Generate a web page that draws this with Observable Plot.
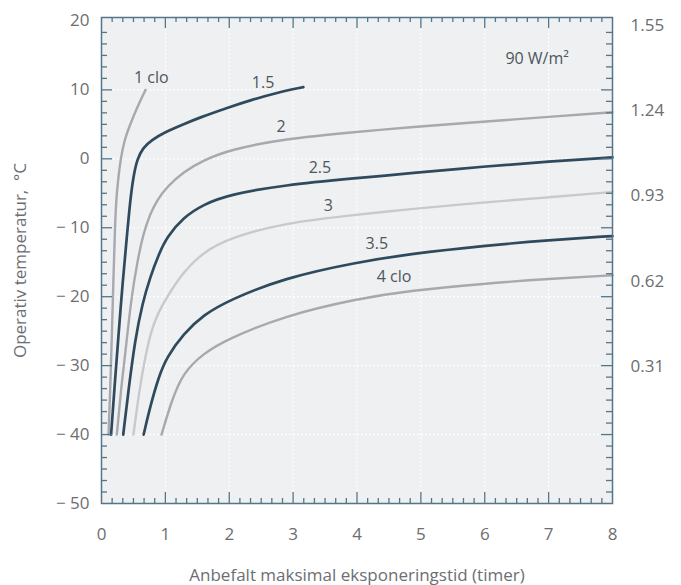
<!DOCTYPE html>
<html><head><meta charset="utf-8">
<script src="https://cdn.jsdelivr.net/npm/d3@7"></script>
<script src="https://cdn.jsdelivr.net/npm/@observablehq/plot@0.6"></script>
<style>body{margin:0;background:#fff;}</style>
</head><body><div id="chart"></div>
<script>
// Curves: [hours, °C]
const clo1   = [[0.11,-40],[0.135,-34],[0.16,-26.3],[0.185,-18],[0.21,-10],[0.23,-6],[0.26,-3],[0.30,0],[0.36,2.8],[0.45,5],[0.55,7.3],[0.69,10]];
const clo15  = [[0.15,-40],[0.205,-33],[0.26,-26.3],[0.33,-18],[0.40,-11],[0.45,-6],[0.50,-2.5],[0.56,0],[0.65,1.6],[0.78,2.7],[1.0,3.9],[1.28,5],[1.54,6],[2.0,7.5],[2.33,8.5],[2.75,9.6],[3.16,10.4]];
const clo2   = [[0.24,-40],[0.31,-33],[0.395,-26.3],[0.47,-20],[0.56,-15],[0.65,-11],[0.76,-8],[0.87,-6],[1.02,-4.1],[1.28,-1.9],[1.6,-0.2],[2.0,1.3],[2.85,2.9],[4,3.9],[4.83,4.6],[6,5.4],[7,6.1],[8,6.75]];
const clo25  = [[0.34,-40],[0.43,-33],[0.525,-26.3],[0.64,-21],[0.76,-17.2],[0.9,-13.8],[1.02,-11.4],[1.28,-8.5],[1.6,-6.6],[2.0,-5.2],[2.85,-3.8],[4,-2.8],[4.83,-2.1],[6,-1.1],[7,-0.4],[8,0.2]];
const clo3   = [[0.50,-40],[0.6,-33],[0.73,-26.5],[0.85,-23],[1.02,-20.1],[1.28,-16.4],[1.6,-13.5],[2.0,-11.5],[2.85,-9.3],[4,-8.1],[4.83,-7.3],[6,-6.3],[7,-5.6],[8,-4.8]];
const clo35  = [[0.66,-40],[0.76,-36],[0.9,-31.5],[1.02,-28.8],[1.28,-25.4],[1.6,-22.6],[2.0,-20.5],[2.85,-17.3],[4,-15.0],[4.83,-13.8],[6,-12.6],[7,-11.8],[8,-11.2]];
const clo4   = [[0.94,-40],[1.1,-35],[1.28,-31],[1.6,-28.2],[1.96,-26.2],[2.85,-22.8],[4,-20.3],[4.83,-19.1],[6,-18.1],[7,-17.4],[8,-16.9]];

const curveLabels = ["1 clo","1.5","2","2.5","3","3.5","4 clo"];
const curveLabelX = [0.78, 2.53, 2.81, 3.42, 3.55, 4.31, 4.58];
const curveLabelY = [11.8, 11.0, 4.6, -1.3, -6.8, -12.3, -17.1];

const xTicks = [0,1,2,3,4,5,6,7,8];
const yTicks = [20,10,0,-10,-20,-30,-40,-50];
const rightTickY = [19.4, 7.0, -5.4, -17.8, -30.2];
const rightTickLabels = ["1.55","1.24","0.93","0.62","0.31"];

const noteText = "90 W/m²";
const xLabel = "Anbefalt maksimal eksponeringstid (timer)";
const yLabel = "Operativ temperatur,  °C";

// styles
const DARK = "#2e4a5c", GRAY = "#a8a8af", LIGHT = "#c9c9cd", AXIS = "#55758b";
const curves = [
  {d: clo1, c: GRAY, w: 2.4},
  {d: clo15, c: DARK, w: 2.7},
  {d: clo2, c: GRAY, w: 2.4},
  {d: clo25, c: DARK, w: 2.7},
  {d: clo3, c: LIGHT, w: 2.4},
  {d: clo35, c: DARK, w: 2.7},
  {d: clo4, c: GRAY, w: 2.4}
];

const W = 681, H = 585, mL = 101, mR = 69, mT = 17, mB = 82;
const plotW = W - mL - mR, plotH = H - mT - mB;

const xMinor = d3.range(0, 8.0001, 1/6).filter(v => Math.abs(v - Math.round(v)) > 1e-6);
const xMajor = xTicks.slice(1, -1);
const yMinor = d3.range(-50, 20.5, 10/6).filter(v => Math.abs(v/10 - Math.round(v/10)) > 1e-6);
const yMajor = yTicks.slice(1, -1);
const yGrid = yTicks.slice(1, -1);

const fmtY = d => d < 0 ? "\u2212 " + Math.abs(d) : String(d);
const TXT = "#6b6e72";

const chart = Plot.plot({
  width: W, height: H,
  marginLeft: mL, marginRight: mR, marginTop: mT, marginBottom: mB,
  x: {domain: [0, 8]},
  y: {domain: [-50, 20.5]},
  style: {fontFamily: "'Open Sans', sans-serif", fontSize: "17px", color: TXT, background: "white"},
  marks: [
    Plot.frame({fill: "#eef0f2", stroke: null}),
    Plot.gridX(xMajor, {stroke: "white", strokeOpacity: 1, strokeWidth: 1.2, strokeDasharray: "2,2"}),
    Plot.gridY(yGrid, {stroke: "white", strokeOpacity: 1, strokeWidth: 1.2, strokeDasharray: "2,2"}),
    ...curves.map(s => Plot.line(s.d, {x: d => d[0], y: d => d[1], stroke: s.c, strokeWidth: s.w, curve: "basis"})),
    // inward ticks: bottom & top
    Plot.tickX(xMinor, {x: d => d, insetTop: plotH - 5, stroke: AXIS, strokeWidth: 1.3}),
    Plot.tickX(xMajor, {x: d => d, insetTop: plotH - 11, stroke: AXIS, strokeWidth: 1.3}),
    Plot.tickX(xMinor, {x: d => d, insetBottom: plotH - 5, stroke: AXIS, strokeWidth: 1.3}),
    Plot.tickX(xMajor, {x: d => d, insetBottom: plotH - 11, stroke: AXIS, strokeWidth: 1.3}),
    // inward ticks: left & right
    Plot.tickY(yMinor, {y: d => d, insetRight: plotW - 6, stroke: AXIS, strokeWidth: 1.3}),
    Plot.tickY(yMajor, {y: d => d, insetRight: plotW - 11, stroke: AXIS, strokeWidth: 1.3}),
    Plot.tickY(yMinor, {y: d => d, insetLeft: plotW - 6, stroke: AXIS, strokeWidth: 1.3}),
    Plot.tickY(yMajor, {y: d => d, insetLeft: plotW - 11, stroke: AXIS, strokeWidth: 1.3}),
    Plot.frame({stroke: AXIS, strokeWidth: 1.5}),
    Plot.axisX(xTicks, {tickSize: 0, tickPadding: 24, label: null, fill: TXT}),
    Plot.axisY(yTicks, {tickSize: 0, tickPadding: 12, tickFormat: fmtY, label: null, fill: TXT}),
    Plot.text(rightTickLabels, {y: (d, i) => rightTickY[i], text: d => d, frameAnchor: "right", textAnchor: "start", dx: 18, fill: TXT}),
    Plot.text(curveLabels, {x: (d, i) => curveLabelX[i], y: (d, i) => curveLabelY[i], text: d => d, fill: "#4f565c", fontSize: 16}),
    Plot.text([noteText], {x: 6.82, y: 14.5, text: d => d, fill: "#4f565c", fontSize: 16}),
    Plot.text([xLabel], {frameAnchor: "bottom", dy: 72, lineAnchor: "middle", textAnchor: "middle", text: d => d, fill: TXT, fontSize: 17}),
    Plot.text([yLabel], {frameAnchor: "left", dx: -81, rotate: -90, textAnchor: "middle", lineAnchor: "middle", text: d => d, fill: TXT, fontSize: 17})
  ]
});
document.getElementById("chart").appendChild(chart);
</script>
</body></html>
